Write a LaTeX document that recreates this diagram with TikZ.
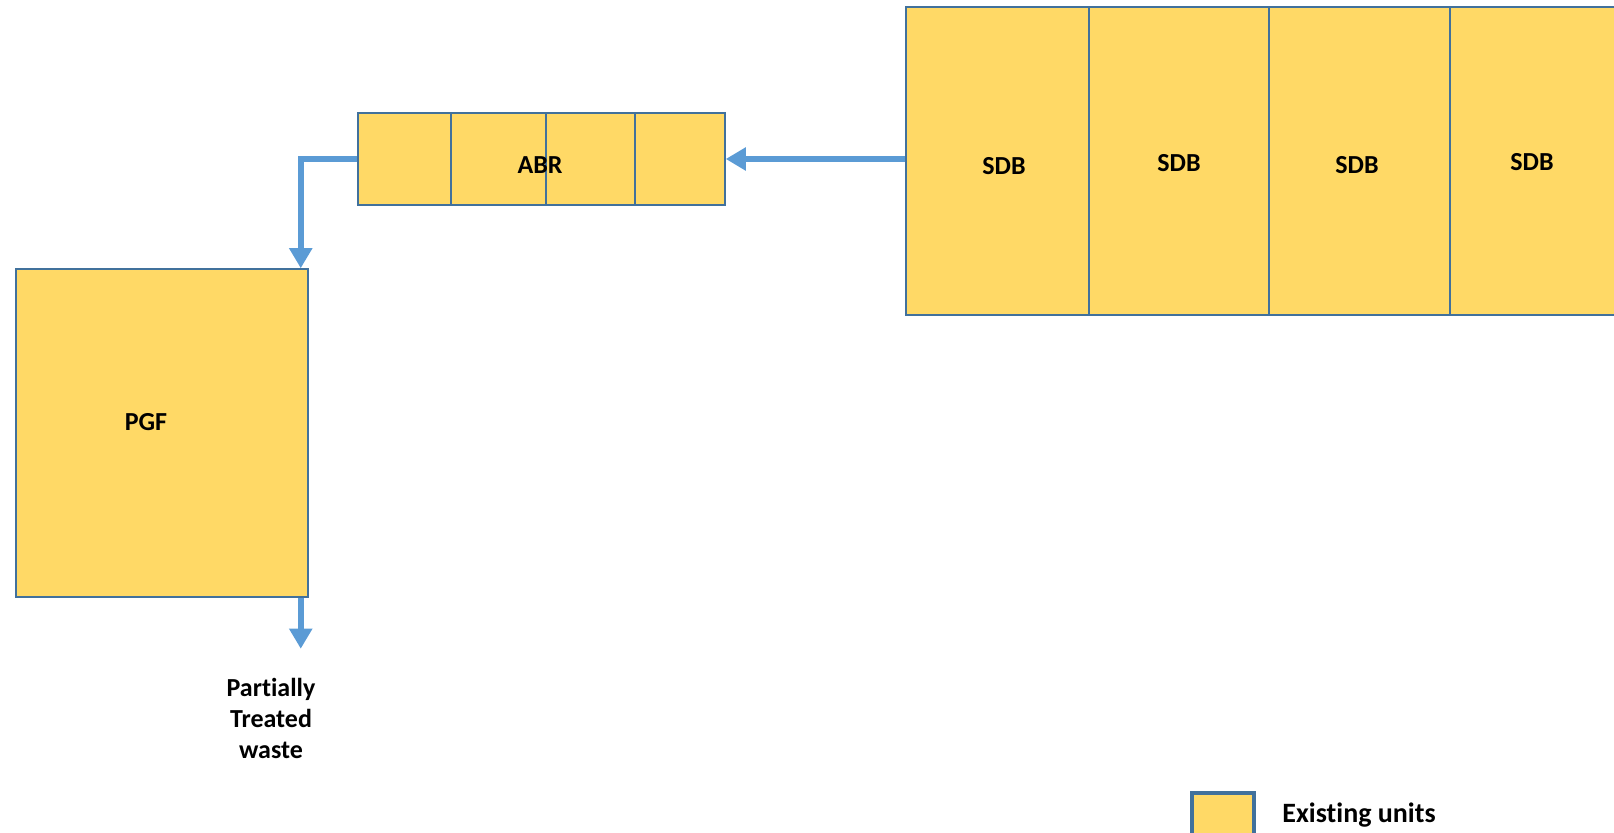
\documentclass[tikz,border=0pt]{standalone}
\usepackage{fontspec}
\setmainfont{Carlito}[Ligatures=NoCommon]
\usetikzlibrary{arrows.meta,positioning}
\definecolor{unitfill}{HTML}{FFD966}
\definecolor{unitedge}{HTML}{41719C}
\definecolor{flowblue}{HTML}{5B9BD5}

\begin{document}
\begin{tikzpicture}[x=0.5pt,y=-0.5pt,
  unitbox/.style={draw=unitedge, fill=unitfill, line width=0.75pt, inner sep=0pt},
  unitlabel/.style={inner sep=0pt, font=\bfseries\fontsize{13}{15.5}\selectfont},
  flow/.style={draw=flowblue, line width=2.8pt, -{Triangle[width=11pt,length=10pt]}}]
\useasboundingbox (0,0) rectangle (1614,833);
% sludge drying beds
\node[unitbox, minimum width=91.5pt, minimum height=154pt] (sdb1) at (997.5,161) {};
\node[unitbox, minimum width=90pt, minimum height=154pt] (sdb2) at (1179,161) {};
\node[unitbox, minimum width=90.5pt, minimum height=154pt] (sdb3) at (1359.5,161) {};
\node[unitbox, minimum width=90.5pt, minimum height=154pt] (sdb4) at (1540.5,161) {};
\node[unitlabel] (sdblabel1) at (1004,166) {SDB};
\node[unitlabel] (sdblabel2) at (1179,163) {SDB};
\node[unitlabel] (sdblabel3) at (1357,165) {SDB};
\node[unitlabel] (sdblabel4) at (1532,162) {SDB};
% baffled reactor chambers
\node[unitbox, minimum width=46.5pt, minimum height=46pt] (abr1) at (404.5,159) {};
\node[unitbox, minimum width=47.5pt, minimum height=46pt] (abr2) at (498.5,159) {};
\node[unitbox, minimum width=44.5pt, minimum height=46pt] (abr3) at (590.5,159) {};
\node[unitbox, minimum width=45pt, minimum height=46pt] (abr4) at (680,159) {};
\node[unitlabel] (abrlabel) at (540,165) {ABR};
% planted gravel filter
\node[unitbox, minimum width=146pt, minimum height=164pt] (pgf) at (162,433) {};
\node[unitlabel] (pgflabel) at (146,422) {PGF};
% flows
\draw[flow] (sdb1.west |- abr4.east) -- (abr4.east);
\draw[flow] (abr1.west) -| ([xshift=-4pt]pgf.north east);
\coordinate (outlet) at ([xshift=-4pt,yshift=-25.5pt]pgf.south east);
\draw[flow] ([xshift=-4pt]pgf.south east) -- (outlet);
\node[unitlabel, align=center] (effluent) at (271,718) {Partially\\Treated\\waste};
% legend
\node[unitbox, line width=2pt, minimum width=31pt, minimum height=21pt] (legendkey) at (1223,814) {};
\node[unitlabel, anchor=west, font=\bfseries\fontsize{14}{16}\selectfont] (legendtext) at (1282,815) {Existing units};
\end{tikzpicture}
\end{document}
